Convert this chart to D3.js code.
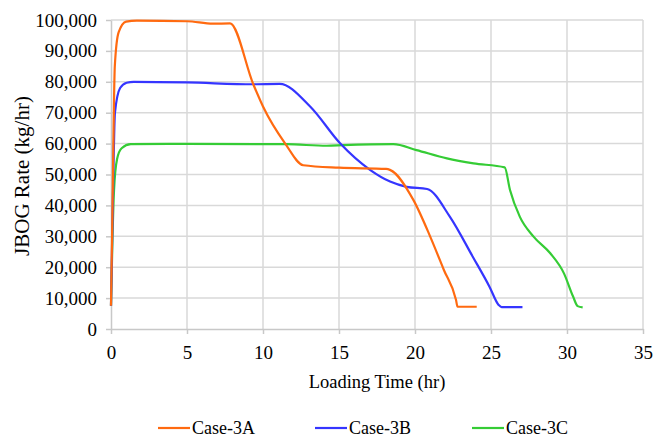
<!DOCTYPE html>
<html>
<head>
<meta charset="utf-8">
<script src="https://cdn.jsdelivr.net/npm/d3@7/dist/d3.min.js"></script>
<style>
  body { margin: 0; background: #fff; }
  svg text { font-family: 'Liberation Serif', 'DejaVu Serif', 'Times New Roman', Times, serif !important; }
</style>
</head>
<body>
<svg width="654" height="439"></svg>
<script>
// Case-3A
let caseA_t = [0, 0.1, 0.25, 0.5, 1.0, 1.7, 5, 6.7, 7.83, 9.36, 10, 11.45, 12.65, 15, 18.1, 18.35, 19.9, 21, 21.9, 22.7, 22.8, 24.06];
let caseA_v = [7500, 40000, 85000, 96000, 99500, 99800, 99600, 98800, 98900, 79200, 72000, 60100, 53000, 52200, 51800, 51500, 41700, 29900, 19100, 9400, 7200, 7200];
// Case-3B
let caseB_t = [0, 0.1, 0.26, 0.6, 1.03, 1.5, 5, 9.36, 11.1, 13.1, 15.07, 17.04, 18.36, 19.45, 20.8, 22.3, 23.8, 24.9, 25.5, 25.7, 27.07];
let caseB_v = [7500, 35000, 70000, 78000, 79700, 80000, 79800, 79200, 79300, 72000, 60100, 51500, 47700, 46000, 45300, 36300, 23400, 13700, 7800, 7100, 7100];
// Case-3C
let caseC_t = [0, 0.1, 0.2, 0.4, 0.7, 1.3, 5, 11.56, 14.2, 15.3, 18.57, 20.1, 22.1, 23.85, 25.9, 26.25, 26.9, 27.8, 28.9, 29.8, 30.4, 30.7, 31.03];
let caseC_v = [7500, 30000, 45000, 55000, 58500, 59800, 59900, 59800, 59300, 59500, 59800, 57900, 55200, 53600, 52300, 45000, 36300, 29900, 24500, 18000, 10500, 7400, 7000];

let seriesNames = ["Case-3A", "Case-3B", "Case-3C"];
let seriesColors = ["#ff6a10", "#3535ff", "#35cc35"];
let xTicks = [0, 5, 10, 15, 20, 25, 30, 35];
let yTicks = [0, 10000, 20000, 30000, 40000, 50000, 60000, 70000, 80000, 90000, 100000];

let svg = d3.select("svg");
let margin = {left: 111, top: 20, right: 11, bottom: 110};
let width = +svg.attr("width") - margin.left - margin.right;
let height = +svg.attr("height") - margin.top - margin.bottom;

let x = d3.scaleLinear().domain([0, 35]).range([0, width]);
let y = d3.scaleLinear().domain([0, 100000]).range([height, 0]);

let g = svg.append("g").attr("transform", `translate(${margin.left},${margin.top})`);

// grid
g.append("g").selectAll("line.gy")
    .data(yTicks.slice(1))
    .enter().append("line")
    .attr("x1", 0).attr("x2", width)
    .attr("y1", d => y(d)).attr("y2", d => y(d))
    .style("stroke", "#d9d9d9").style("stroke-width", 1.5);
g.append("g").selectAll("line.gx")
    .data(xTicks.slice(1))
    .enter().append("line")
    .attr("x1", d => x(d)).attr("x2", d => x(d))
    .attr("y1", 0).attr("y2", height)
    .style("stroke", "#d9d9d9").style("stroke-width", 1.5);

let xAxis = g.append("g")
    .attr("transform", `translate(0,${height})`)
    .call(d3.axisBottom(x).tickValues(xTicks).tickSize(5).tickPadding(12).tickSizeOuter(0));
let yAxis = g.append("g")
    .call(d3.axisLeft(y).tickValues(yTicks).tickFormat(d3.format(",")).tickSize(5).tickPadding(9).tickSizeOuter(0));

[xAxis, yAxis].forEach(a => {
    a.attr("font-family", null);
    a.select(".domain").style("stroke", "#c8c8c8").style("stroke-width", 1.5);
    a.selectAll(".tick line").style("stroke", "#c8c8c8").style("stroke-width", 1.5);
    a.selectAll("text")
        .style("font-size", "19px")
        .style("fill", "#000");
});

// curves
let series = [
    {name: seriesNames[0], t: caseA_t, v: caseA_v},
    {name: seriesNames[1], t: caseB_t, v: caseB_v},
    {name: seriesNames[2], t: caseC_t, v: caseC_v}
];

let line = d3.line()
    .x(d => x(d[0]))
    .y(d => y(d[1]))
    .curve(d3.curveMonotoneX);

// draw C first so A sits on top like the reference
series.slice().reverse().forEach(s => {
    let i = seriesNames.indexOf(s.name);
    g.append("path")
        .datum(s.t.map((t, j) => [t, s.v[j]]))
        .attr("d", line)
        .style("fill", "none")
        .style("stroke", seriesColors[i])
        .style("stroke-width", 2.2)
        .style("stroke-linejoin", "round");
});

// axis titles
svg.append("text")
    .attr("x", margin.left + width / 2)
    .attr("y", 388)
    .attr("text-anchor", "middle")
    .style("font-size", "18.5px")
    .text("Loading Time (hr)");

svg.append("text")
    .attr("transform", "translate(22,176) rotate(-90)")
    .attr("text-anchor", "middle")
    .attr("dominant-baseline", "central")
    .style("font-size", "21px")
    .text("JBOG Rate (kg/hr)");

// legend
let legendX = [158, 315, 472];
let legend = svg.append("g").selectAll("g.leg")
    .data(seriesNames)
    .enter().append("g")
    .attr("transform", (d, i) => `translate(${legendX[i]},428)`);
legend.append("line")
    .attr("x1", 0).attr("x2", 32)
    .style("stroke", (d, i) => seriesColors[i])
    .style("stroke-width", 2.2);
legend.append("text")
    .attr("x", 34)
    .attr("y", 6)
    .style("font-size", "18px")
    .text(d => d);
</script>
</body>
</html>
